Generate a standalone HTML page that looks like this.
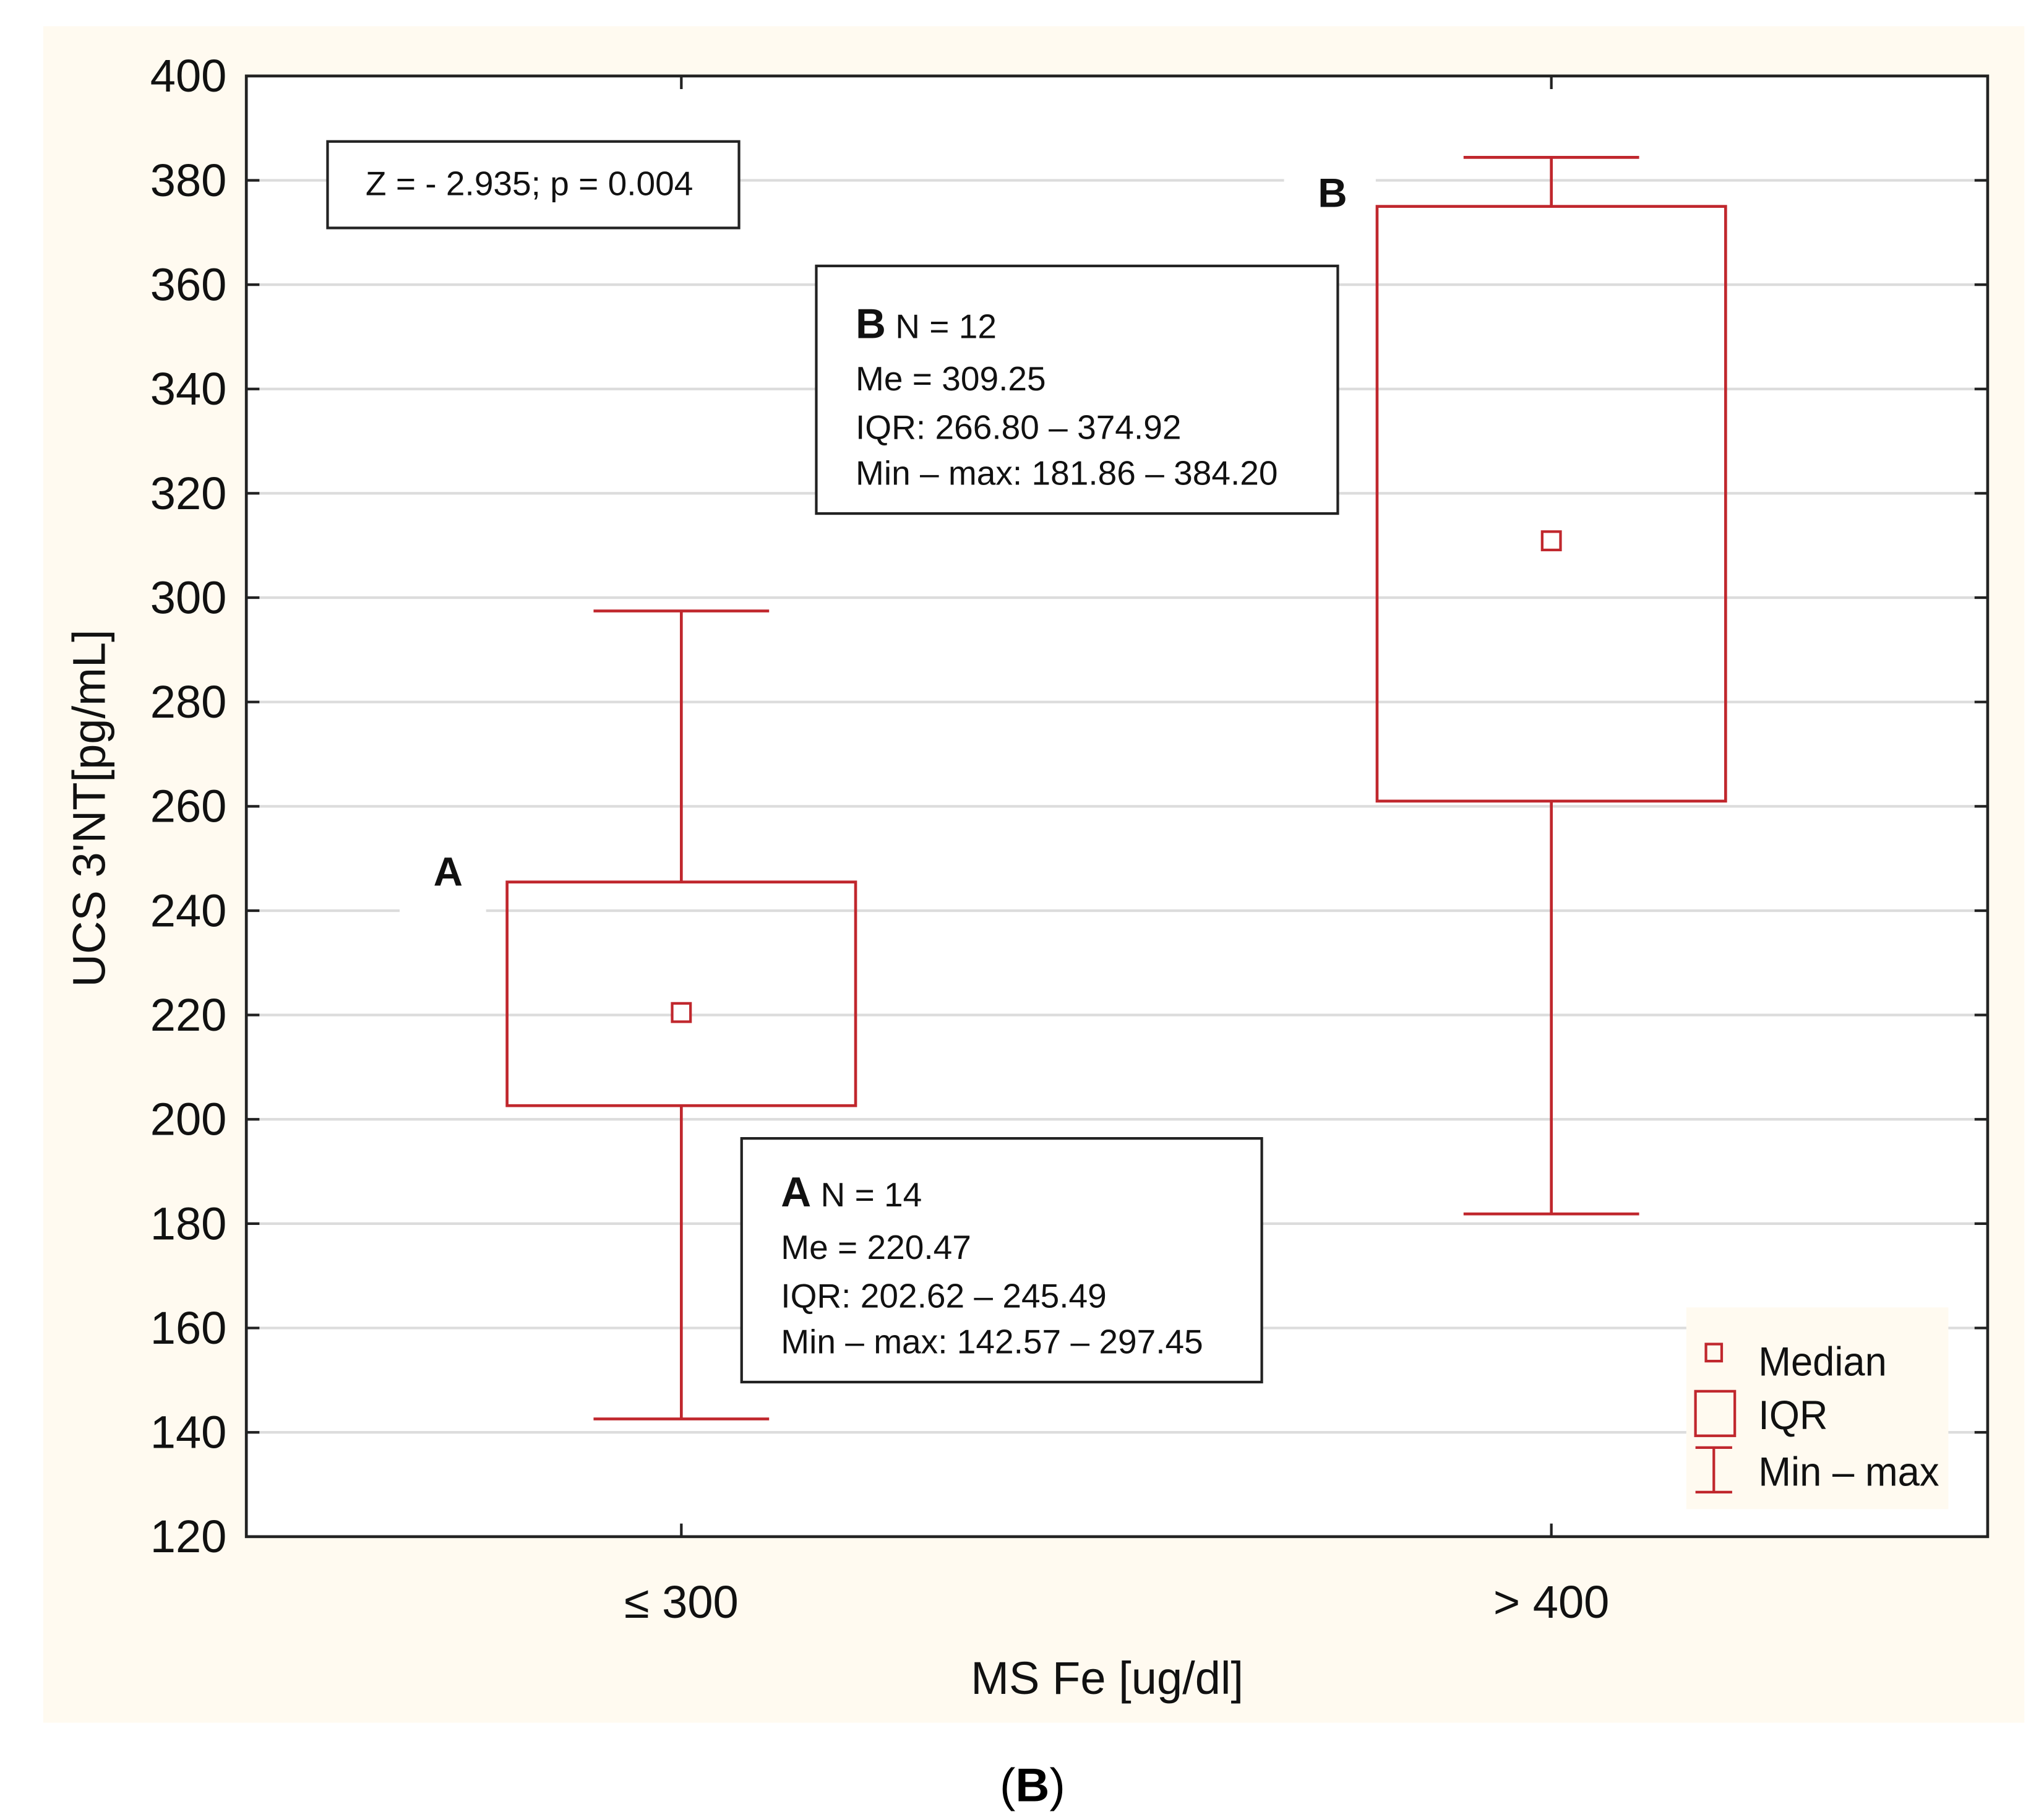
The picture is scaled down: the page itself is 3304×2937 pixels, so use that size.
<!DOCTYPE html>
<html><head><meta charset="utf-8">
<style>
html,body{margin:0;padding:0;background:#fff;}
svg{display:block;}
text{font-family:"Liberation Sans",sans-serif;}
.cal{font-family:"Liberation Sans Narrow","Liberation Sans",sans-serif;}
</style></head>
<body>
<svg id="chart" width="3304" height="2937" viewBox="0 0 1560 1387" preserveAspectRatio="none" xmlns="http://www.w3.org/2000/svg">
<rect x="33" y="20" width="1512" height="1295" fill="#fffaf0"/>
<rect x="188" y="58" width="1329" height="1115" fill="#ffffff"/>
<g id="grid"></g>
<g id="yticks"></g>
<g id="xticks"></g>
<rect x="305" y="640" width="66" height="60" fill="#fff"/>
<rect x="980" y="122" width="70" height="36" fill="#fff"/>
<g id="boxes"></g>
<rect x="188" y="58" width="1329" height="1115" fill="none" stroke="#222" stroke-width="2.2"/>
<text transform="translate(80,617) rotate(-90)" text-anchor="middle" font-size="35" fill="#111">UCS 3'NT[pg/mL]</text>
<text x="845" y="1293" text-anchor="middle" font-size="35" fill="#111">MS Fe [ug/dl]</text>
<text x="788" y="1375" text-anchor="middle" font-size="36" font-family="Liberation Serif, serif" fill="#000">(<tspan font-weight="bold">B</tspan>)</text>
<g>
<rect x="250" y="108" width="314" height="66" fill="#fff" stroke="#222" stroke-width="2"/>
<text class="cal" x="404" y="149" text-anchor="middle" font-size="26" fill="#111">Z = - 2.935; p = 0.004</text>
</g>
<g>
<rect x="623" y="203" width="398" height="189" fill="#fff" stroke="#222" stroke-width="2"/>
<text class="cal" x="653" y="258" font-size="26" fill="#111"><tspan font-weight="bold" font-size="32">B</tspan>  N = 12</text>
<text class="cal" x="653" y="298" font-size="26" fill="#111">Me = 309.25</text>
<text class="cal" x="653" y="335" font-size="26" fill="#111">IQR: 266.80 – 374.92</text>
<text class="cal" x="653" y="370" font-size="26" fill="#111">Min – max: 181.86 – 384.20</text>
</g>
<g>
<rect x="566" y="869" width="397" height="186" fill="#fff" stroke="#222" stroke-width="2"/>
<text class="cal" x="596" y="921" font-size="26" fill="#111"><tspan font-weight="bold" font-size="32">A</tspan>  N = 14</text>
<text class="cal" x="596" y="961" font-size="26" fill="#111">Me = 220.47</text>
<text class="cal" x="596" y="998" font-size="26" fill="#111">IQR: 202.62 – 245.49</text>
<text class="cal" x="596" y="1033" font-size="26" fill="#111">Min – max: 142.57 – 297.45</text>
</g>
<text x="342" y="676" text-anchor="middle" font-size="31" font-weight="bold" fill="#111">A</text>
<text x="1017" y="158" text-anchor="middle" font-size="31" font-weight="bold" fill="#111">B</text>
<g>
<rect x="1287" y="998" width="200" height="154" fill="#fffaf0"/>
<rect x="1302" y="1026" width="12" height="13" fill="none" stroke="#c0272d" stroke-width="2"/>
<text x="1342" y="1050" font-size="31" fill="#111" textLength="98" lengthAdjust="spacingAndGlyphs">Median</text>
<rect x="1294" y="1062" width="30" height="34" fill="none" stroke="#c0272d" stroke-width="2"/>
<text x="1342" y="1091" font-size="31" fill="#111" textLength="53" lengthAdjust="spacingAndGlyphs">IQR</text>
<path d="M1294 1105H1322M1308 1105V1139M1294 1139H1322" stroke="#c0272d" stroke-width="2" fill="none"/>
<text x="1342" y="1134" font-size="31" fill="#111" textLength="138" lengthAdjust="spacingAndGlyphs">Min – max</text>
</g>
</svg>
<script>
const yTicks = [120,140,160,180,200,220,240,260,280,300,320,340,360,380,400];
const categories = ['≤ 300','> 400'];
const mins = [142.57, 181.86];
const q1s = [202.62, 261.0];
const medians = [220.47, 310.9];
const q3s = [245.49, 375.0];
const maxs = [297.45, 384.4];

const NS='http://www.w3.org/2000/svg';
const L=188,R=1517,T=58,B=1173,yMin=120,yMax=400;
function y(v){return B-(v-yMin)/(yMax-yMin)*(B-T);}
const catX=[520,1184];
function x(i){return catX[0]+(catX[1]-catX[0])*i/(categories.length-1||1);}
function mk(tag,attrs,parent){const e=document.createElementNS(NS,tag);for(const k in attrs)e.setAttribute(k,attrs[k]);parent.appendChild(e);return e;}
const grid=document.getElementById('grid'),yt=document.getElementById('yticks'),xt=document.getElementById('xticks'),bx=document.getElementById('boxes');
yTicks.forEach(v=>{
  const yy=y(v);
  if(v>yMin&&v<yMax){const g=mk('line',{x1:L,x2:R,y1:yy,y2:yy,stroke:'#dcdcdc','stroke-width':2},grid);
  
  }
  const t1=mk('line',{x1:L,x2:L+10,y1:yy,y2:yy,stroke:'#222','stroke-width':2},yt);
  
  
  const t2=mk('line',{x1:R-10,x2:R,y1:yy,y2:yy,stroke:'#222','stroke-width':2},yt);
  
  
  const lb=mk('text',{x:173,y:yy+12,'text-anchor':'end','font-size':35,fill:'#111'},yt);
  lb.textContent=v;
  
  
});
categories.forEach((c,i)=>{
  const xx=x(i);
  const a=mk('line',{x1:xx,x2:xx,y1:B-10,y2:B,stroke:'#222','stroke-width':2},xt);
  
  
  const b=mk('line',{x1:xx,x2:xx,y1:T,y2:T+10,stroke:'#222','stroke-width':2},xt);
  
  
  const lb=mk('text',{x:xx,y:1235,'text-anchor':'middle','font-size':35,fill:'#111'},xt);
  lb.textContent=c;
  
  
  const col='#c0272d',hw=133,cw=67;
  const g=mk('g',{},bx);
  
  
  const w=mk('path',{d:`M${xx} ${y(maxs[i])}V${y(q3s[i])}M${xx} ${y(q1s[i])}V${y(mins[i])}M${xx-cw} ${y(maxs[i])}H${xx+cw}M${xx-cw} ${y(mins[i])}H${xx+cw}`,stroke:col,'stroke-width':2.2,fill:'none'},g);
  
  
  const r=mk('rect',{x:xx-hw,y:y(q3s[i]),width:2*hw,height:y(q1s[i])-y(q3s[i]),fill:'none',stroke:col,'stroke-width':2.2},g);
  
  
  const m=mk('rect',{x:xx-7,y:y(medians[i])-7,width:14,height:14,fill:'#fff',stroke:col,'stroke-width':2},g);
  
  
});
</script>
</body></html>
